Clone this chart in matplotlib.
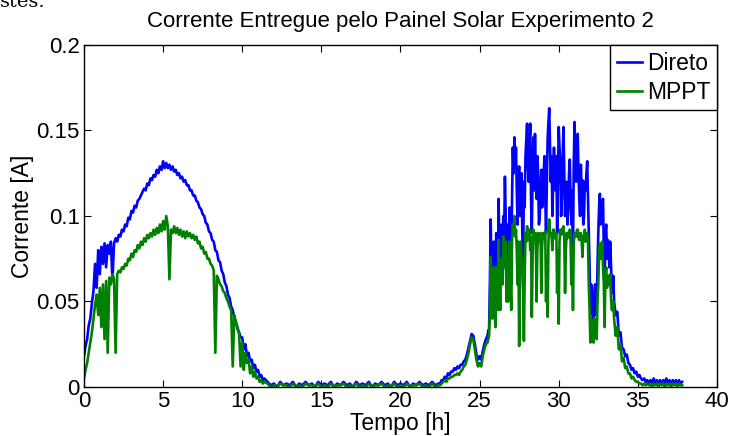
"""
Corrente entregue pelo painel solar - experimento 2 (Direto x MPPT).
"""
import matplotlib
matplotlib.use('Agg')
import matplotlib.pyplot as plt
import numpy as np

# inicio (h) e passo (h) de cada trecho de amostras
t0_dia1, passo_dia1 = 0.0, 0.1
t0_noite, passo_noite = 11.6, 0.2
t0_manha2, passo_manha2 = 22.5, 0.1
t0_pico2, passo_pico2 = 25.5, 0.05
t0_tarde2, passo_tarde2 = 33.5, 0.1

direto_dia1 = [
    0.018, 0.024, 0.028, 0.036, 0.040, 0.049, 0.056, 0.072, 0.058, 0.080,
    0.066, 0.082, 0.072, 0.084, 0.070, 0.083, 0.078, 0.085, 0.062, 0.084,
    0.087, 0.085, 0.089, 0.088, 0.092, 0.091, 0.095, 0.094, 0.099, 0.098,
    0.103, 0.102, 0.106, 0.105, 0.109, 0.110, 0.112, 0.114, 0.116, 0.115,
    0.119, 0.118, 0.122, 0.121, 0.124, 0.123, 0.127, 0.125, 0.129, 0.127,
    0.132, 0.128, 0.131, 0.128, 0.130, 0.127, 0.129, 0.126, 0.127, 0.124,
    0.125, 0.122, 0.123, 0.120, 0.121, 0.118, 0.118, 0.115, 0.115, 0.112,
    0.112, 0.109, 0.108, 0.105, 0.104, 0.101, 0.100, 0.096, 0.095, 0.091,
    0.090, 0.086, 0.085, 0.080, 0.079, 0.074, 0.073, 0.068, 0.066, 0.061,
    0.059, 0.054, 0.052, 0.047, 0.045, 0.040, 0.038, 0.034, 0.032, 0.029,
    0.029, 0.022, 0.025, 0.018, 0.020, 0.015, 0.016, 0.011, 0.013, 0.009,
    0.010, 0.006, 0.007, 0.004, 0.005,
]
mppt_dia1 = [
    0.005, 0.010, 0.014, 0.020, 0.026, 0.032, 0.040, 0.048, 0.054, 0.042,
    0.058, 0.035, 0.060, 0.028, 0.062, 0.020, 0.064, 0.060, 0.066, 0.063,
    0.020, 0.066, 0.068, 0.067, 0.070, 0.069, 0.072, 0.071, 0.075, 0.074,
    0.078, 0.076, 0.080, 0.079, 0.083, 0.081, 0.085, 0.083, 0.087, 0.085,
    0.089, 0.087, 0.090, 0.088, 0.092, 0.089, 0.093, 0.090, 0.095, 0.091,
    0.097, 0.092, 0.100, 0.094, 0.063, 0.092, 0.090, 0.094, 0.090, 0.093,
    0.089, 0.092, 0.088, 0.091, 0.087, 0.091, 0.088, 0.090, 0.087, 0.089,
    0.086, 0.088, 0.084, 0.085, 0.081, 0.082, 0.078, 0.079, 0.075, 0.075,
    0.072, 0.071, 0.068, 0.020, 0.065, 0.063, 0.060, 0.059, 0.056, 0.055,
    0.052, 0.050, 0.047, 0.045, 0.012, 0.042, 0.038, 0.035, 0.031, 0.012,
    0.026, 0.010, 0.020, 0.014, 0.016, 0.008, 0.012, 0.006, 0.009, 0.005,
    0.006, 0.003, 0.004, 0.002, 0.003,
]
direto_noite = [
    0.003, 0.001, 0.002, 0.000, 0.003, 0.001, 0.002, 0.001, 0.003, 0.000,
    0.002, 0.001, 0.003, 0.001, 0.002, 0.000, 0.003, 0.001, 0.002, 0.001,
    0.003, 0.000, 0.002, 0.001, 0.003, 0.001, 0.002, 0.000, 0.003, 0.001,
    0.002, 0.001, 0.003, 0.000, 0.002, 0.001, 0.003, 0.001, 0.002, 0.000,
    0.003, 0.001, 0.002, 0.001, 0.003, 0.000, 0.002, 0.001, 0.003, 0.001,
    0.002, 0.001, 0.003, 0.001, 0.002,
]
mppt_noite = [
    0.002, 0.000, 0.001, 0.000, 0.002, 0.001, 0.001, 0.000, 0.002, 0.000,
    0.001, 0.000, 0.002, 0.001, 0.001, 0.000, 0.002, 0.000, 0.001, 0.000,
    0.002, 0.000, 0.001, 0.001, 0.002, 0.000, 0.001, 0.000, 0.002, 0.000,
    0.001, 0.000, 0.002, 0.000, 0.001, 0.001, 0.002, 0.000, 0.001, 0.000,
    0.002, 0.000, 0.001, 0.000, 0.002, 0.000, 0.001, 0.001, 0.002, 0.000,
    0.001, 0.000, 0.002, 0.000, 0.001,
]
direto_manha2 = [
    0.002, 0.004, 0.004, 0.006, 0.005, 0.008, 0.007, 0.009, 0.009, 0.011,
    0.010, 0.012, 0.011, 0.013, 0.013, 0.015, 0.016, 0.019, 0.023, 0.027,
    0.031, 0.030, 0.025, 0.019, 0.016, 0.018, 0.016, 0.021, 0.025, 0.028,
]
mppt_manha2 = [
    0.001, 0.002, 0.003, 0.004, 0.003, 0.005, 0.005, 0.006, 0.006, 0.007,
    0.007, 0.008, 0.007, 0.009, 0.010, 0.012, 0.013, 0.016, 0.020, 0.025,
    0.029, 0.028, 0.022, 0.016, 0.012, 0.014, 0.012, 0.018, 0.022, 0.025,
]
direto_pico2 = [
    0.030, 0.033, 0.034, 0.060, 0.098, 0.070, 0.047, 0.062, 0.085, 0.055,  # 25.5
    0.050, 0.090, 0.070, 0.055, 0.110, 0.080, 0.060, 0.085, 0.095, 0.070,  # 26.0
    0.100, 0.085, 0.123, 0.100, 0.065, 0.095, 0.090, 0.070, 0.105, 0.080,  # 26.5
    0.060, 0.110, 0.140, 0.125, 0.146, 0.130, 0.140, 0.115, 0.095, 0.120,  # 27.0
    0.129, 0.100, 0.110, 0.125, 0.090, 0.070, 0.120, 0.105, 0.135, 0.145,  # 27.5
    0.154, 0.130, 0.120, 0.140, 0.154, 0.110, 0.090, 0.125, 0.146, 0.115,  # 28.0
    0.148, 0.125, 0.110, 0.135, 0.125, 0.095, 0.100, 0.115, 0.127, 0.105,  # 28.5
    0.110, 0.125, 0.135, 0.110, 0.090, 0.120, 0.145, 0.155, 0.163, 0.140,  # 29.0
    0.120, 0.135, 0.100, 0.120, 0.140, 0.125, 0.115, 0.135, 0.090, 0.120,  # 29.5
    0.152, 0.140, 0.130, 0.100, 0.110, 0.135, 0.152, 0.125, 0.100, 0.115,  # 30.0
    0.120, 0.095, 0.105, 0.125, 0.133, 0.110, 0.095, 0.115, 0.080, 0.130,  # 30.5
    0.155, 0.135, 0.120, 0.140, 0.148, 0.125, 0.110, 0.100, 0.130, 0.110,  # 31.0
    0.121, 0.095, 0.100, 0.120, 0.115, 0.125, 0.132, 0.110, 0.090, 0.070,  # 31.5
    0.043, 0.060, 0.050, 0.040, 0.036, 0.055, 0.060, 0.042, 0.045, 0.070,  # 32.0
    0.090, 0.105, 0.113, 0.095, 0.100, 0.108, 0.110, 0.080, 0.060, 0.090,  # 32.5
    0.095, 0.075, 0.086, 0.080, 0.070, 0.085, 0.072, 0.060, 0.055, 0.065,  # 33.0
]
mppt_pico2 = [
    0.026, 0.028, 0.030, 0.045, 0.076, 0.055, 0.040, 0.050, 0.070, 0.045,  # 25.5
    0.035, 0.070, 0.055, 0.045, 0.086, 0.065, 0.045, 0.070, 0.075, 0.060,  # 26.0
    0.088, 0.070, 0.080, 0.085, 0.050, 0.075, 0.050, 0.065, 0.085, 0.060,  # 26.5
    0.045, 0.085, 0.095, 0.090, 0.100, 0.088, 0.092, 0.080, 0.060, 0.085,  # 27.0
    0.024, 0.070, 0.085, 0.075, 0.070, 0.055, 0.027, 0.065, 0.090, 0.085,  # 27.5
    0.094, 0.088, 0.086, 0.092, 0.080, 0.088, 0.041, 0.075, 0.092, 0.086,  # 28.0
    0.088, 0.090, 0.050, 0.080, 0.090, 0.086, 0.085, 0.090, 0.055, 0.082,  # 28.5
    0.090, 0.087, 0.088, 0.091, 0.050, 0.075, 0.041, 0.085, 0.098, 0.090,  # 29.0
    0.090, 0.088, 0.080, 0.092, 0.092, 0.087, 0.088, 0.090, 0.055, 0.080,  # 29.5
    0.037, 0.085, 0.092, 0.089, 0.090, 0.093, 0.094, 0.088, 0.055, 0.080,  # 30.0
    0.090, 0.087, 0.088, 0.091, 0.092, 0.085, 0.060, 0.082, 0.045, 0.084,  # 30.5
    0.090, 0.088, 0.088, 0.092, 0.092, 0.087, 0.086, 0.090, 0.090, 0.086,  # 31.0
    0.076, 0.088, 0.088, 0.092, 0.085, 0.089, 0.090, 0.086, 0.060, 0.045,  # 31.5
    0.026, 0.040, 0.030, 0.028, 0.026, 0.040, 0.035, 0.030, 0.028, 0.050,  # 32.0
    0.060, 0.078, 0.084, 0.075, 0.080, 0.085, 0.070, 0.060, 0.035, 0.065,  # 32.5
    0.070, 0.058, 0.065, 0.062, 0.060, 0.066, 0.053, 0.045, 0.045, 0.050,  # 33.0
]
direto_tarde2 = [
    0.050, 0.042, 0.044, 0.030, 0.032, 0.023, 0.022, 0.018, 0.019, 0.014,
    0.013, 0.010, 0.011, 0.008, 0.009, 0.006, 0.007, 0.005, 0.004, 0.005,
    0.003, 0.004, 0.002, 0.004, 0.002, 0.005, 0.002, 0.004, 0.001, 0.004,
    0.002, 0.004, 0.002, 0.005, 0.002, 0.004, 0.001, 0.004, 0.002, 0.004,
    0.002, 0.004, 0.002, 0.003,
]
mppt_tarde2 = [
    0.040, 0.030, 0.035, 0.022, 0.025, 0.015, 0.017, 0.011, 0.012, 0.008,
    0.008, 0.005, 0.006, 0.004, 0.003, 0.003, 0.002, 0.002, 0.001, 0.002,
    0.001, 0.002, 0.001, 0.002, 0.000, 0.002, 0.001, 0.002, 0.000, 0.002,
    0.001, 0.002, 0.000, 0.002, 0.001, 0.002, 0.000, 0.002, 0.001, 0.002,
    0.000, 0.002, 0.001, 0.001,
]


def junta(inicios, passos, trechos):
    t = []
    v = []
    for t0, dt, vals in zip(inicios, passos, trechos):
        t.append(t0 + dt * np.arange(len(vals)))
        v.append(np.array(vals))
    return np.concatenate(t), np.concatenate(v)


def main():
    plt.rcParams['font.family'] = ['Liberation Sans', 'DejaVu Sans']

    inicios = (t0_dia1, t0_noite, t0_manha2, t0_pico2, t0_tarde2)
    passos = (passo_dia1, passo_noite, passo_manha2, passo_pico2, passo_tarde2)
    t_d, i_d = junta(inicios, passos, (direto_dia1, direto_noite, direto_manha2,
                                       direto_pico2, direto_tarde2))
    t_m, i_m = junta(inicios, passos, (mppt_dia1, mppt_noite, mppt_manha2,
                                       mppt_pico2, mppt_tarde2))

    fig = plt.figure(figsize=(7.34, 4.36), dpi=100)
    ax = fig.add_axes([0.1144, 0.1124, 0.8624, 0.7844])

    ax.plot(t_d, i_d, color=(0, 0, 1), lw=1.9, label='Direto')
    ax.plot(t_m, i_m, color=(0, 0.5, 0), lw=1.9, label='MPPT')

    ax.set_xlim(0, 40)
    ax.set_ylim(0, 0.2)
    ax.set_xticks(np.arange(0, 41, 5))
    ax.set_yticks([0, 0.05, 0.1, 0.15, 0.2])
    ax.set_yticklabels(['0', '0.05', '0.1', '0.15', '0.2'])
    ax.tick_params(direction='in', top=True, right=True, length=5,
                   labelsize=16, pad=3)
    for s in ax.spines.values():
        s.set_linewidth(1.0)

    ax.set_title('Corrente Entregue pelo Painel Solar Experimento 2',
                 fontsize=16, pad=13)
    ax.set_xlabel('Tempo [h]', fontsize=16.5, labelpad=0)
    ax.set_ylabel('Corrente [A]', fontsize=16.5, labelpad=2)

    leg = ax.legend(loc='upper right', bbox_to_anchor=(1, 1), borderaxespad=0,
                    fancybox=False, edgecolor='black', framealpha=1,
                    fontsize=16.5, handlelength=1.1, handletextpad=0.2,
                    borderpad=0.3, labelspacing=0.25)
    leg.get_frame().set_linewidth(1.0)

    # resto do texto do documento cortado no topo
    fig.text(0.0, 0.995, 'stes.', family='serif', fontsize=14, va='center')

    fig.savefig('out.png', dpi=100)


if __name__ == '__main__':
    main()
